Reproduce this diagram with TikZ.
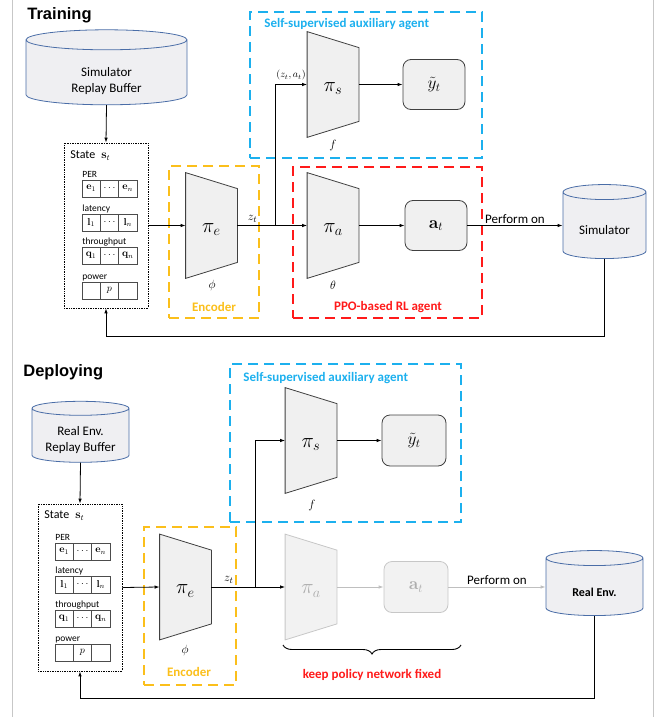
\documentclass[tikz,border=0pt]{standalone}
\usepackage[no-math]{fontspec}
\setmainfont{Carlito}
\newfontfamily\headfont{Liberation Sans}
\usetikzlibrary{shapes.geometric,positioning,arrows.meta,decorations.pathreplacing}

\definecolor{cylblue}{HTML}{4A6DA7}
\definecolor{cylfill}{HTML}{EFEFF2}
\definecolor{auxblue}{HTML}{1CB0EE}
\definecolor{encorange}{HTML}{FBBF1B}
\definecolor{ppored}{HTML}{FF1A1A}
\definecolor{netfill}{HTML}{F0F0F0}

\tikzset{
  Title/.style    = {font=\headfont\bfseries\fontsize{16.5}{18}\selectfont,
                     anchor=west, inner sep=0pt},
  Cyl/.style      = {cylinder, shape border rotate=90, draw=cylblue,
                     fill=cylfill, line width=0.8pt, inner sep=0pt},
  CylLab/.style   = {inner sep=0pt, align=center, font=\fontsize{13}{16}\selectfont},
  StateBox/.style = {draw, densely dotted, line width=0.7pt},
  StateLab/.style = {anchor=west, inner sep=0pt, font=\fontsize{12}{14}\selectfont},
  RowLab/.style   = {anchor=base west, inner sep=0pt, yshift=3pt,
                     font=\fontsize{9.5}{10}\selectfont},
  Cell/.style     = {draw=black!70, line width=0.6pt, minimum width=18.33pt,
                     minimum height=17pt, inner sep=0pt, outer sep=0pt,
                     font=\fontsize{10}{12}\selectfont},
  NetBox/.style   = {minimum width=51pt, minimum height=105pt, inner sep=0pt},
  NetOn/.style    = {draw=black!75, fill=netfill, line width=0.8pt},
  NetOff/.style   = {draw=black!22, fill=black!5, line width=0.8pt},
  OutBox/.style   = {rounded corners=8pt, minimum width=62pt, minimum height=50pt,
                     line width=0.8pt},
  AuxBox/.style   = {draw=auxblue, dash pattern=on 10pt off 6pt, line width=1.6pt},
  EncBox/.style   = {draw=encorange, dash pattern=on 10pt off 6pt, line width=1.6pt},
  PpoBox/.style   = {draw=ppored, dash pattern=on 10pt off 6pt, line width=1.6pt},
  BoxLab/.style   = {inner sep=0pt, font=\bfseries\fontsize{13}{15}\selectfont},
  Lab/.style      = {inner sep=2pt, font=\fontsize{13}{15}\selectfont},
  Sym/.style      = {inner sep=0pt, font=\fontsize{13}{15}\selectfont},
}

% label above a cell row, then its three cells
\newcommand{\StateRow}[7]{%
  \node[RowLab] (#1l) at (#2,#3) {#4};
  \node[Cell, anchor=north west] (#1a) at (#2,#3) {#5};
  \node[Cell, right=0pt of #1a] (#1b) {#6};
  \node[Cell, right=0pt of #1b] (#1c) {#7};
}
% trapezoid network block
\newcommand{\Net}[5]{%
  \node[NetBox] (#1) at (#2) {};
  \draw[#3] (#1.north west) -- ([yshift=-16pt]#1.north east)
    -- ([yshift=16pt]#1.south east) -- (#1.south west) -- cycle;
  \node[inner sep=0pt, text=#4, font=\fontsize{21}{24}\selectfont]
    (#1l) at ([yshift=-4pt]#1.center) {#5};
}

\begin{document}
\begin{tikzpicture}[x=1pt, y=-1pt, line width=0.8pt,
  >={Latex[length=5pt,width=3.5pt]}]
\useasboundingbox (0,0) rectangle (670,717);

% page frame
\draw[black!22, line width=0.7pt] (12,0) -- (12,717) (653,0) -- (653,717);

%%%%%%%%%% Training
\node[Title] (train) at (27,15) {Training};

\node[AuxBox, minimum width=232pt, minimum height=146pt] (aux1) at (366,85) {};
\node[EncBox, minimum width=90pt, minimum height=152pt] (enc1) at (214,242) {};
\node[PpoBox, minimum width=189pt, minimum height=151pt] (ppo1) at (387.5,242.5) {};
\node[BoxLab, text=auxblue, anchor=west] (aux1l) at (264,24) {Self-supervised auxiliary agent};
\node[BoxLab, text=encorange] (enc1l) at (214,307) {Encoder};
\node[BoxLab, text=ppored] (ppo1l) at (388,307) {PPO-based RL agent};

\node[Cyl, minimum width=161pt, minimum height=75pt, aspect=0.25] (buf1) at (106.5,72.5)
  {\makebox[80pt]{}};
\node[CylLab] (buf1l) at (106.5,81) {Simulator\\Replay Buffer};

\node[StateBox, minimum width=84pt, minimum height=165pt] (st1) at (106,225.5) {};
\node[StateLab] (st1l) at (70,156) {State\enspace$\mathbf{s}_t$};
\StateRow{per1}{82}{180}{PER}{$\mathbf{e}_1$}{$\cdots$}{$\mathbf{e}_n$}
\StateRow{lat1}{82}{214}{latency}{$\mathbf{l}_1$}{$\cdots$}{$\mathbf{l}_n$}
\StateRow{thr1}{82}{247}{throughput}{$\mathbf{q}_1$}{$\cdots$}{$\mathbf{q}_n$}
\StateRow{pow1}{82}{282}{power}{}{$p$}{}

\Net{pie1}{211.5,225.5}{NetOn}{black}{$\pi_e$}
\Net{pis1}{333,84.5}{NetOn}{black}{$\pi_s$}
\Net{pia1}{333,225.5}{NetOn}{black}{$\pi_a$}
\node[Sym] (phi1) at (212,285) {$\phi$};
\node[Sym] (f1) at (333,145) {$f$};
\node[Sym] (th1) at (333,285) {$\theta$};

\node[OutBox, draw=black!75, fill=netfill] (yt1) at (434,84.5)
  {\fontsize{17}{20}\selectfont$\tilde{y}_t$};
\node[OutBox, draw=black!75, fill=netfill] (at1) at (436,225.5)
  {\fontsize{18}{20}\selectfont$\mathbf{a}_t$};
\node[Cyl, minimum width=83pt, minimum height=74pt, aspect=0.3] (sim1) at (604.5,225.5)
  {\makebox[50pt]{}};
\node[CylLab] (sim1l) at (604.5,230) {Simulator};

\coordinate (br1) at (275,225.5);
\draw[->] (buf1.south) -- (st1.north);
\draw[->] (st1.east) -- (pie1.west);
\draw (pie1.east) -- node[above, Sym, pos=0.4, yshift=3pt] (zt1) {$z_t$} (br1);
\draw[->] (br1) -- (pia1.west);
\draw[->] (br1) |- node[pos=0.75, above, Sym, yshift=4pt, font=\fontsize{10}{12}\selectfont]
  (za1) {$(z_t, a_t)$} (pis1.west);
\draw[->] (pis1.east) -- (yt1.west);
\draw[->] (pia1.east) -- (at1.west);
\draw[->] (at1.east) -- node[above, Lab] (perf1) {Perform on} (sim1.west);
\draw[->] (sim1.south) -- ++(0,77) -| (st1.south);

%%%%%%%%%% Deploying
\node[Title] (dep) at (23,372) {Deploying};

\node[AuxBox, minimum width=231pt, minimum height=158pt] (aux2) at (345.5,443) {};
\node[EncBox, minimum width=92pt, minimum height=158pt] (enc2) at (190,606) {};
\node[BoxLab, text=auxblue, anchor=west] (aux2l) at (243,378) {Self-supervised auxiliary agent};
\node[BoxLab, text=encorange] (enc2l) at (189,672) {Encoder};

\node[Cyl, minimum width=97pt, minimum height=61pt, aspect=0.28] (buf2) at (80.5,435.5)
  {\makebox[50pt]{}};
\node[CylLab] (buf2l) at (80.5,440) {Real Env.\\Replay Buffer};

\node[StateBox, minimum width=84pt, minimum height=167pt] (st2) at (80,587.5) {};
\node[StateLab] (st2l) at (44,516) {State\enspace$\mathbf{s}_t$};
\StateRow{per2}{55}{543}{PER}{$\mathbf{e}_1$}{$\cdots$}{$\mathbf{e}_n$}
\StateRow{lat2}{55}{576}{latency}{$\mathbf{l}_1$}{$\cdots$}{$\mathbf{l}_n$}
\StateRow{thr2}{55}{610}{throughput}{$\mathbf{q}_1$}{$\cdots$}{$\mathbf{q}_n$}
\StateRow{pow2}{55}{644}{power}{}{$p$}{}

\Net{pie2}{185.5,587}{NetOn}{black}{$\pi_e$}
\Net{pis2}{311,440.5}{NetOn}{black}{$\pi_s$}
\Net{pia2}{311,587}{NetOff}{black!32}{$\pi_a$}
\node[Sym] (phi2) at (185,650) {$\phi$};
\node[Sym] (f2) at (312,505) {$f$};

\node[OutBox, draw=black!75, fill=netfill, minimum width=64pt, minimum height=51pt]
  (yt2) at (414,440.5) {\fontsize{17}{20}\selectfont$\tilde{y}_t$};
\node[OutBox, draw=black!22, fill=black!5, text=black!32, minimum width=64pt,
  minimum height=51pt] (at2) at (416,587) {\fontsize{18}{20}\selectfont$\mathbf{a}_t$};
\node[Cyl, minimum width=97pt, minimum height=65pt, aspect=0.3] (env2) at (594.5,587)
  {\makebox[50pt]{}};
\node[CylLab, font=\bfseries\fontsize{12}{14}\selectfont] (env2l) at (594.5,592) {Real Env.};

\coordinate (br2) at (255,587);
\draw[->] (buf2.south) -- (st2.north);
\draw[->] (st2.east) -- (pie2.west);
\draw (pie2.east) -- node[above, Sym, pos=0.4, yshift=3pt] (zt2) {$z_t$} (br2);
\draw[->] (br2) -- (pia2.west);
\draw[->] (br2) |- (pis2.west);
\draw[->] (pis2.east) -- (yt2.west);
\draw[->, black!25] (pia2.east) -- (at2.west);
\draw[->, black!25] (at2.east) -- node[above, Lab, text=black] (perf2) {Perform on} (env2.west);
\draw[->] (env2.south) -- ++(0,82) -| (st2.south);

\draw[decorate, decoration={brace, mirror, amplitude=9pt}, line width=0.9pt]
  (283,645) -- (461,645);
\node[BoxLab, text=ppored] (fix2) at (372,675) {keep policy network fixed};

\end{tikzpicture}
\end{document}
